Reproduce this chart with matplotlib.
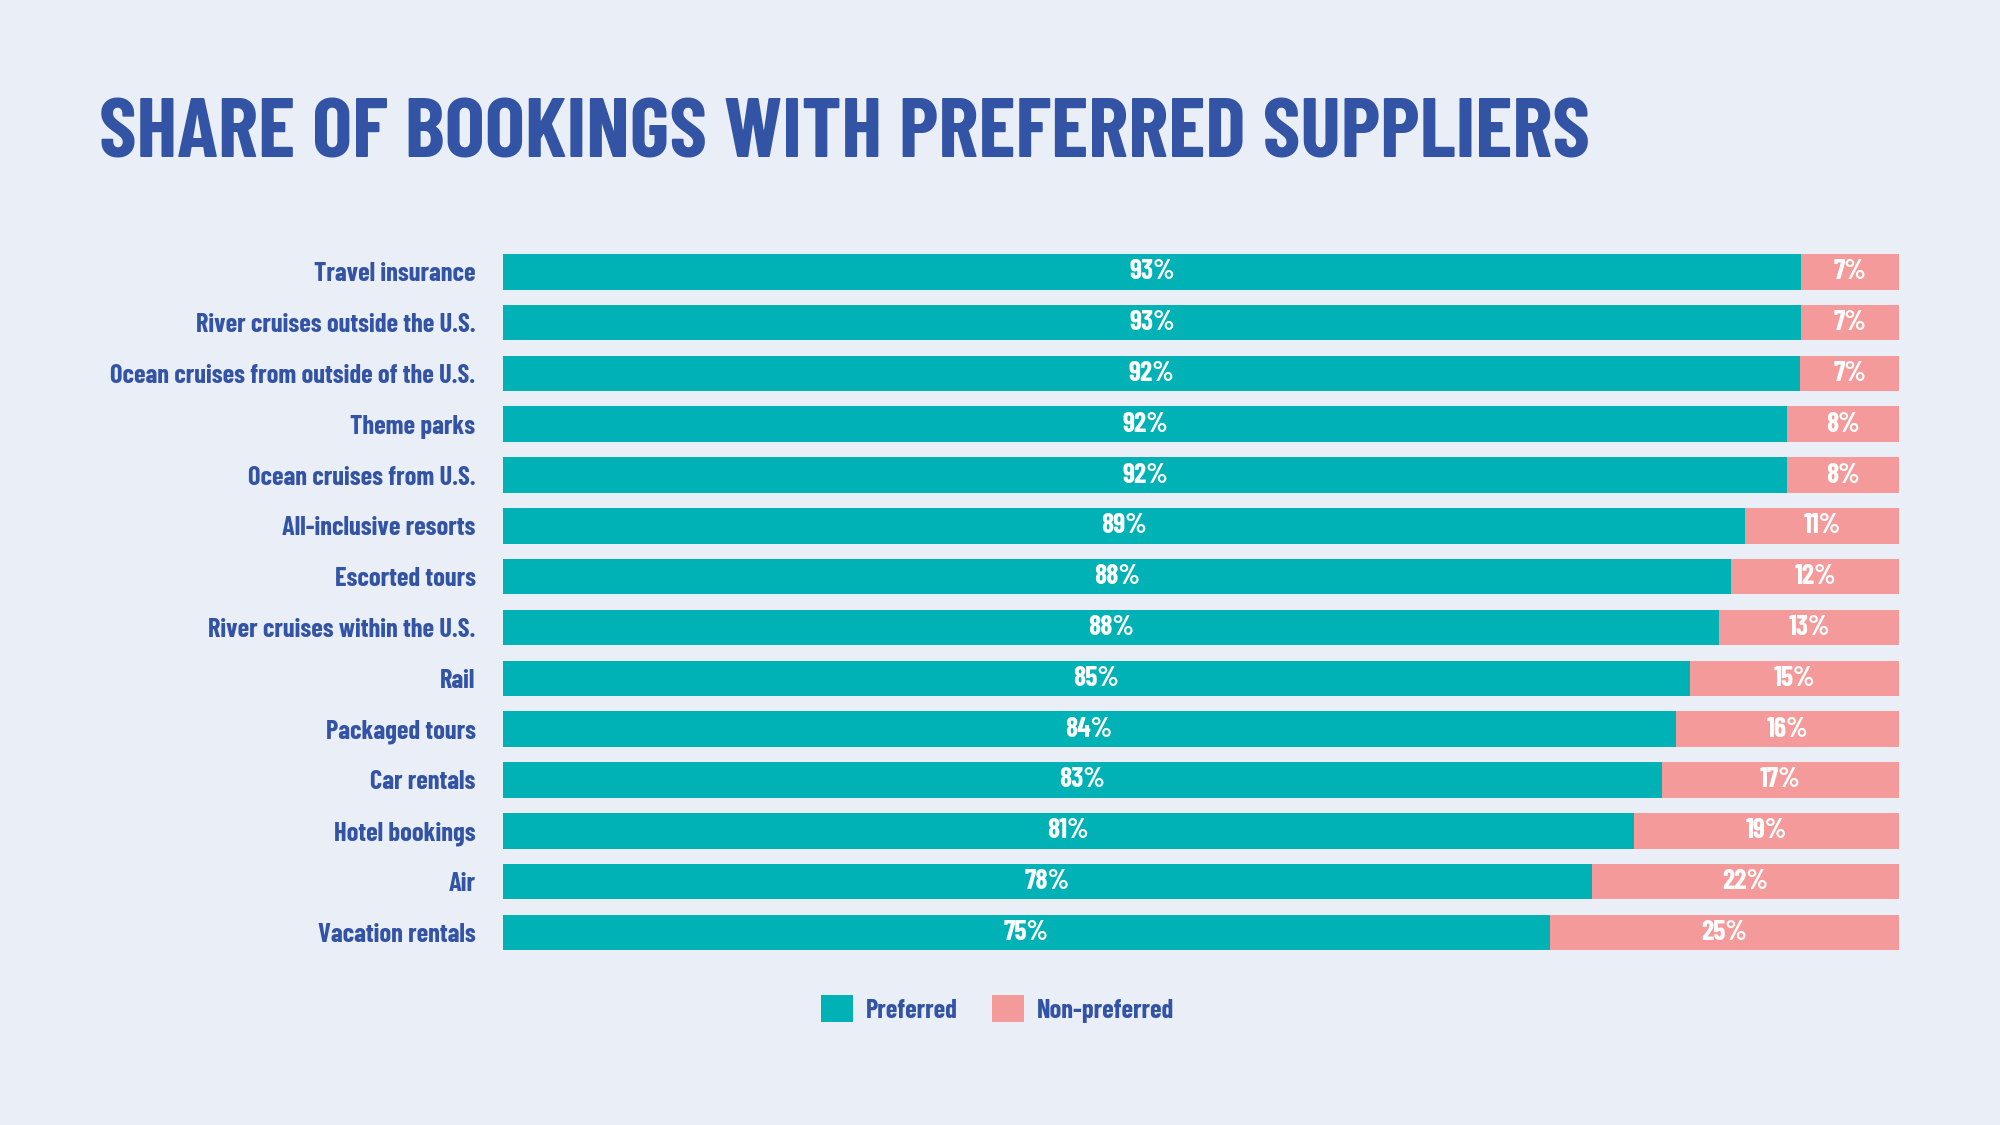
import matplotlib
matplotlib.use("Agg")
import matplotlib.pyplot as plt
from matplotlib.patches import Patch

categories = [
    "Travel insurance",
    "River cruises outside the U.S.",
    "Ocean cruises from outside of the U.S.",
    "Theme parks",
    "Ocean cruises from U.S.",
    "All-inclusive resorts",
    "Escorted tours",
    "River cruises within the U.S.",
    "Rail",
    "Packaged tours",
    "Car rentals",
    "Hotel bookings",
    "Air",
    "Vacation rentals",
]
preferred = [93, 93, 92, 92, 92, 89, 88, 88, 85, 84, 83, 81, 78, 75]
non_preferred = [7, 7, 7, 8, 8, 11, 12, 13, 15, 16, 17, 19, 22, 25]
series_names = ["Preferred", "Non-preferred"]
title = "SHARE OF BOOKINGS WITH PREFERRED SUPPLIERS"

BG = "#E9EEF7"
TEAL = "#00B2B6"
PINK = "#F59A9A"
BLUE = "#3353A4"
FONT = ["Barlow Condensed", "DejaVu Sans"]

plt.rcParams["font.family"] = FONT

fig = plt.figure(figsize=(20, 11.25), dpi=100, facecolor=BG)
ax = fig.add_axes([0.2513, 0.1486, 0.9495 - 0.2513, 0.781 - 0.1486])
ax.set_facecolor(BG)

n = len(categories)
ys = list(range(n))
totals = [p + q for p, q in zip(preferred, non_preferred)]
pref_share = [p / t * 100 for p, t in zip(preferred, totals)]
non_share = [q / t * 100 for q, t in zip(non_preferred, totals)]

ax.barh(ys, pref_share, height=0.70, color=TEAL, label=series_names[0])
ax.barh(ys, non_share, left=pref_share, height=0.70, color=PINK, label=series_names[1])

for y, p, q, ps, qs in zip(ys, preferred, non_preferred, pref_share, non_share):
    ax.text(ps / 2, y, f"{p}%", ha="center", va="center", color="white",
            fontsize=20, fontweight="bold")
    ax.text(ps + qs / 2, y, f"{q}%", ha="center", va="center", color="white",
            fontsize=20, fontweight="bold")

ax.set_xlim(0, 100)
ax.set_ylim(n - 0.5, -0.5)
ax.set_yticks(ys)
ax.set_yticklabels(categories, fontsize=19, fontweight="bold", color=BLUE)
ax.tick_params(axis="y", length=0, pad=19.5)
ax.set_xticks([])
for s in ax.spines.values():
    s.set_visible(False)

fig.text(0.0495, 1 - 158 / 1125, title, ha="left", va="baseline",
         fontsize=61, fontweight="bold", color=BLUE)

handles = [Patch(facecolor=TEAL, edgecolor="none"), Patch(facecolor=PINK, edgecolor="none")]
leg = fig.legend(handles, series_names, loc="center", bbox_to_anchor=(0.499, 1 - 1009 / 1125),
                 ncol=2, frameon=False, handlelength=1.2, handleheight=1.2,
                 handletextpad=0.5, columnspacing=1.3,
                 prop={"family": FONT, "size": 19, "weight": "bold"})
for t in leg.get_texts():
    t.set_color(BLUE)

fig.savefig("out.png", dpi=100, facecolor=BG)
